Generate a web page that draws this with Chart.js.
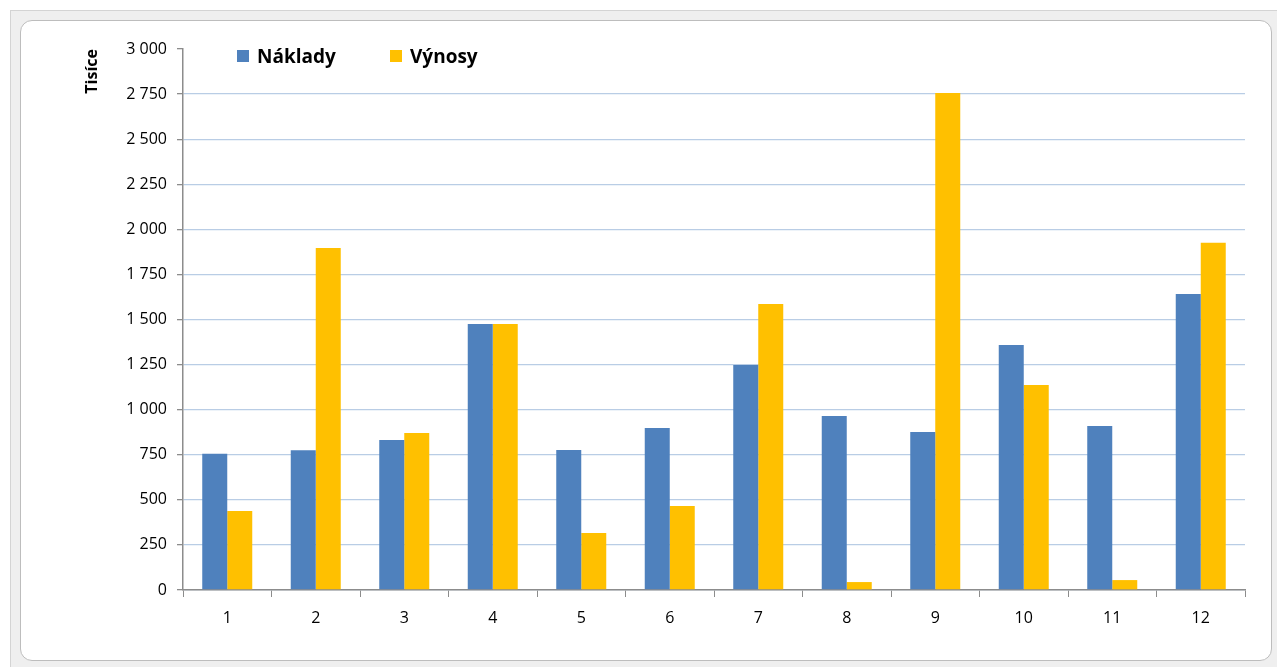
<!DOCTYPE html>
<html>
<head>
<meta charset="utf-8">
<script src="https://cdn.jsdelivr.net/npm/chart.js@4"></script>
<style>
  body { margin: 0; background: #fff; font-family: "Open Sans", sans-serif; }
  #frame { position: absolute; left: 10px; top: 10px; width: 1275px; height: 662px; background: #efefef; border-top: 1px solid #d4d4d4; border-left: 1px solid #d4d4d4; }
  #paper { position: absolute; left: 20px; top: 20px; width: 1250px; height: 639px; background: #fff; border: 1px solid #bdbdbd; border-radius: 12px; }
  #wrap { position: absolute; left: 0; top: 0; width: 1277px; height: 667px; }
  .legend { position: absolute; top: 43px; font-weight: bold; font-size: 19px; color: #000; }
  .legend span { display: inline-block; width: 12px; height: 12px; margin-right: 8px; vertical-align: 1px; }
</style>
</head>
<body>
<div id="frame"></div>
<div id="paper"></div>
<div id="wrap"><canvas id="costChart" width="1277" height="667"></canvas></div>
<div class="legend" style="left:237px"><span style="background:#4f81bd"></span>Náklady</div>
<div class="legend" style="left:390px"><span style="background:#ffc000"></span>Výnosy</div>
<script>
document.addEventListener("DOMContentLoaded", function() {
    // months
    var months = ['1', '2', '3', '4', '5', '6', '7', '8', '9', '10', '11', '12'];
    // values in thousands
    var naklady = [755, 775, 832, 1475, 776, 898, 1248, 965, 876, 1359, 910, 1642];
    var vynosy = [438, 1897, 871, 1475, 316, 466, 1586, 44, 2756, 1137, 55, 1925];

    function spaced(v) {
        return String(v).replace(/\B(?=(\d{3})+(?!\d))/g, ' ');
    }

    var ctx = document.getElementById('costChart').getContext('2d');

    new Chart(ctx, {
        type: 'bar',
        data: {
            labels: months,
            datasets: [
                { label: 'Náklady', data: naklady, backgroundColor: '#4f81bd' },
                { label: 'Výnosy', data: vynosy, backgroundColor: '#ffc000' }
            ]
        },
        options: {
            responsive: false,
            animation: false,
            layout: { padding: { left: 0, top: 49, right: 32, bottom: 0 } },
            datasets: { bar: { categoryPercentage: 0.565, barPercentage: 1.0 } },
            plugins: { legend: { display: false }, tooltip: { enabled: false } },
            scales: {
                x: {
                    grid: { offset: true, drawOnChartArea: false, color: '#8c8c8c', tickLength: 7 },
                    border: { color: '#8c8c8c', width: 1.5 },
                    ticks: { color: '#000', font: { family: 'Open Sans', size: 16 }, padding: 12 },
                    afterFit: function(scale) { scale.height = 77; }
                },
                y: {
                    min: 0,
                    max: 3000,
                    ticks: { stepSize: 250, color: '#000', font: { family: 'Open Sans', size: 16 }, padding: 10,
                             callback: function(v) { return spaced(v); } },
                    grid: {
                        color: function(c) { return c.tick && c.tick.value === 3000 ? 'rgba(0,0,0,0)' : '#b9cde5'; },
                        tickColor: '#8c8c8c',
                        tickLength: 6,
                        lineWidth: 1.3
                    },
                    border: { color: '#8c8c8c', width: 1.5 },
                    title: { display: true, text: 'Tisíce', align: 'end', color: '#000',
                             font: { family: 'Open Sans', size: 16, weight: 'bold' }, padding: { top: 83, bottom: 0 } },
                    afterFit: function(scale) { scale.width = 183; }
                }
            }
        }
    });
});
</script>
</body>
</html>
